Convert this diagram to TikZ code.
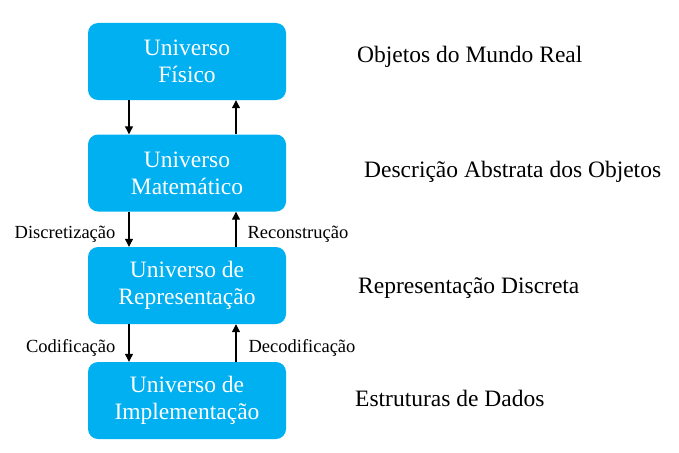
\documentclass[tikz,border=0pt]{standalone}
\usepackage{fontspec}
\setmainfont{Liberation Serif}
\usetikzlibrary{arrows.meta,calc}

\definecolor{ppblue}{HTML}{00B0F0}
\tikzset{
  universe/.style={fill=ppblue, draw=none, rounded corners=10pt, minimum width=198pt,
    minimum height=77pt, text=white, align=center, inner sep=0pt,
    font=\fontsize{23.5}{27}\selectfont},
  level/.style={anchor=base west, inner sep=0pt, font=\fontsize{23.5}{27}\selectfont},
  flow/.style={line width=1.2pt, -{Triangle[length=8pt,width=8pt]}},
  lbl/.style={font=\fontsize{18.5}{21}\selectfont, inner sep=0pt}
}

\begin{document}
\begin{tikzpicture}[x=1pt,y=-1pt]
\useasboundingbox (0,0) rectangle (679,452);

% the four universes
\node[universe] (fis) at (187,61.5) {Universo\\F\'isico};
\node[universe] (mat) at (187,173) {Universo\\Matem\'atico};
\node[universe] (rep) at (187,285.5) {Universo de\\Representa\c{c}\~ao};
\node[universe] (imp) at (187,400.5) {Universo de\\Implementa\c{c}\~ao};

% arrows between them
\draw[flow] ([xshift=-58pt]fis.south) -- ([xshift=-58pt]mat.north);
\draw[flow] ([xshift=49pt]mat.north) -- ([xshift=49pt]fis.south);
\draw[flow] ([xshift=-58pt]mat.south) -- node[lbl, anchor=base east, pos=0.75, xshift=-13pt] (dis) {Discretiza\c{c}\~ao} ([xshift=-58pt]rep.north);
\draw[flow] ([xshift=49pt]rep.north) -- node[lbl, anchor=base west, pos=0.25, xshift=11pt] (rec) {Reconstru\c{c}\~ao} ([xshift=49pt]mat.south);
\draw[flow] ([xshift=-58pt]rep.south) -- node[lbl, anchor=base east, pos=0.75, xshift=-13pt] (cod) {Codifica\c{c}\~ao} ([xshift=-58pt]imp.north);
\draw[flow] ([xshift=49pt]imp.north) -- node[lbl, anchor=base west, pos=0.25, xshift=12pt] (dec) {Decodifica\c{c}\~ao} ([xshift=49pt]rep.south);

% what each level stands for
\node[level] (real) at (357,63) {Objetos do Mundo Real};
\node[level] (abs) at (364,177) {Descri\c{c}\~ao Abstrata dos Objetos};
\node[level] (dsc) at (358,293) {Representa\c{c}\~ao Discreta};
\node[level] (dad) at (355,406) {Estruturas de Dados};
\end{tikzpicture}
\end{document}
